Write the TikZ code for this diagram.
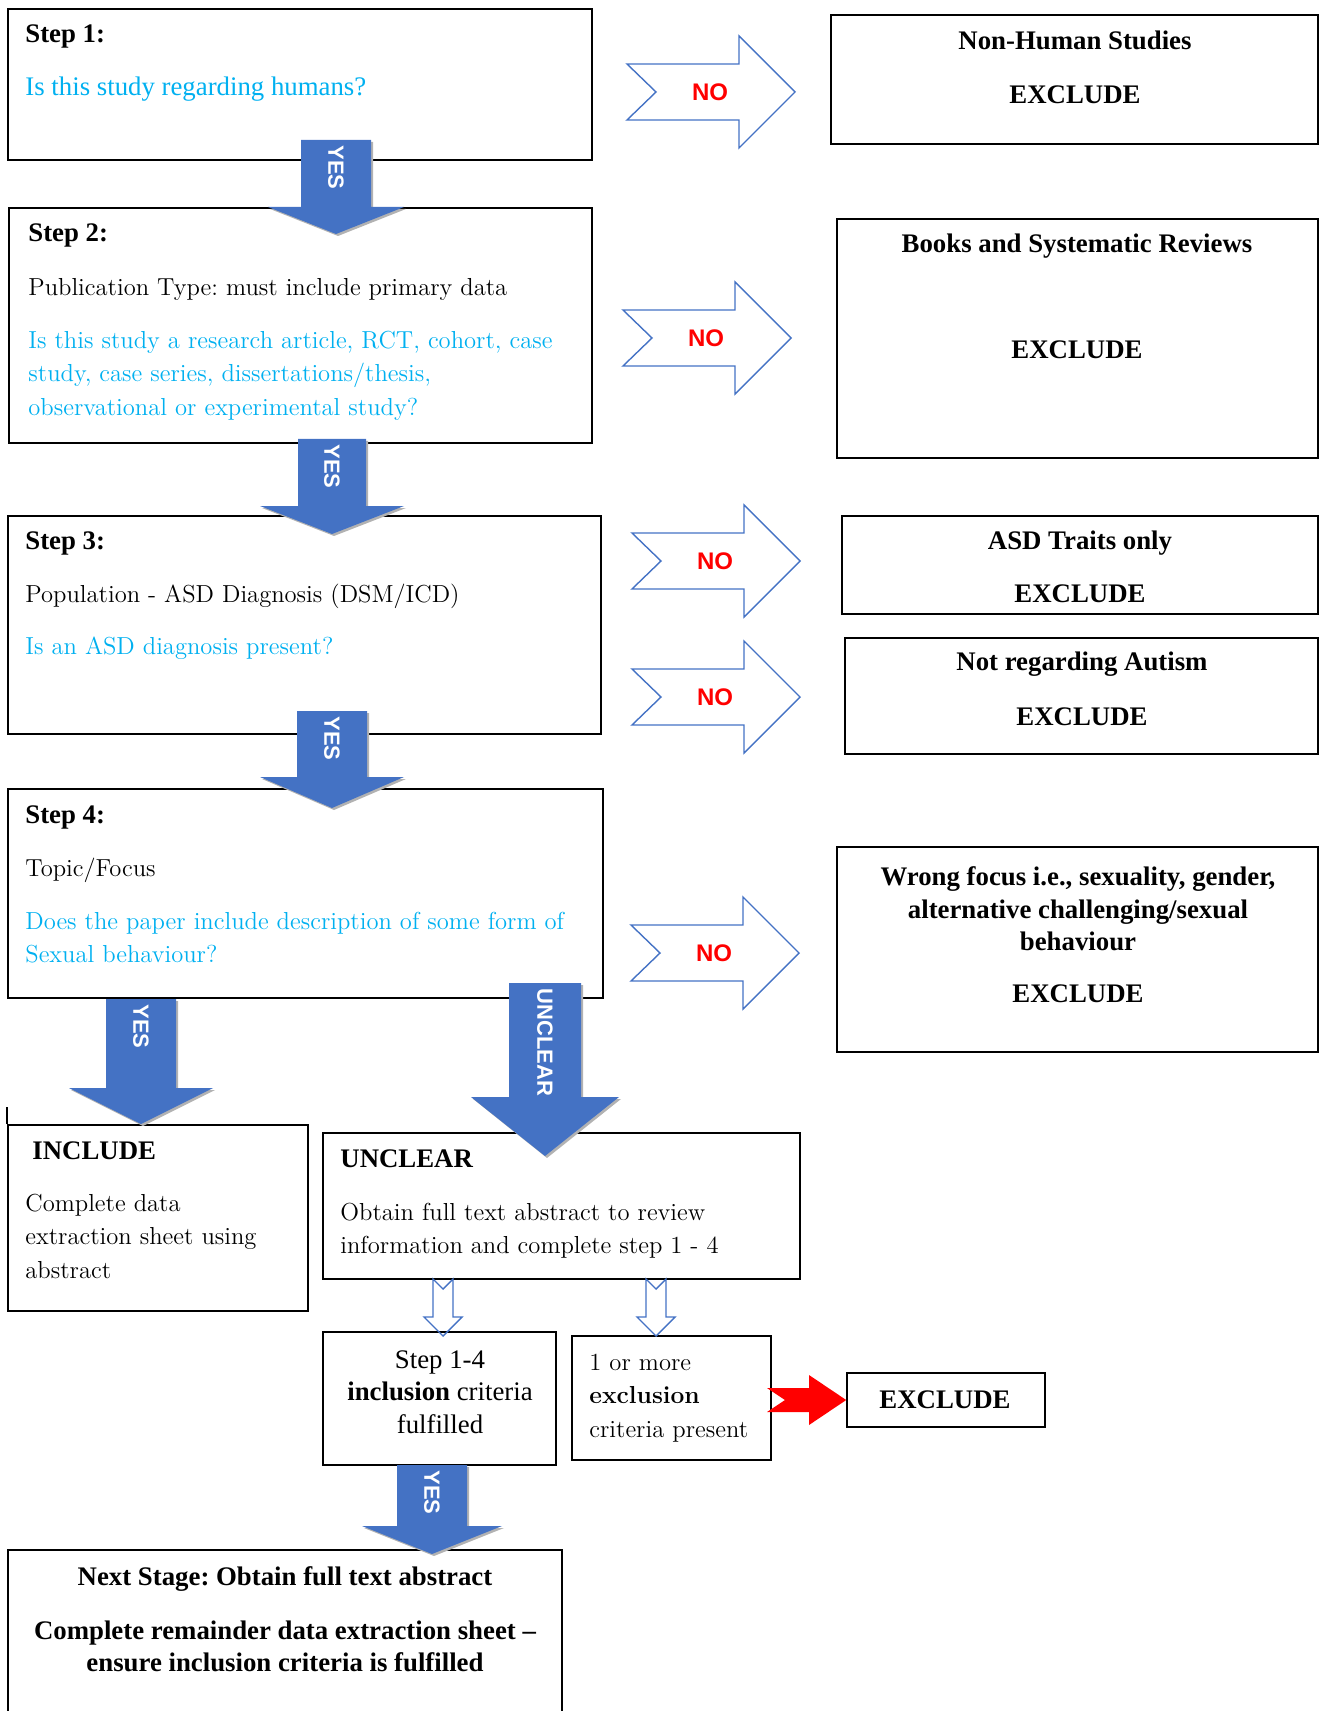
\documentclass[tikz,border=0pt]{standalone}
\usepackage{fontspec}
\newfontfamily\tnr{Liberation Serif}
\newfontfamily\arl{Liberation Sans}
\usetikzlibrary{fit}
\definecolor{yesblue}{HTML}{4472C4}
\definecolor{qcyan}{HTML}{00B0F0}
\tikzset{
  box/.style={draw, line width=0.8pt, inner sep=0pt},
  tms/.style={inner sep=0pt, align=left, anchor=north west, font=\tnr\fontsize{13.4}{16.4}\selectfont},
  tmsb/.style={tms, font=\tnr\bfseries\fontsize{13.4}{16.4}\selectfont},
  cen/.style={inner sep=0pt, align=left, anchor=north west, font=\fontsize{12.3}{16.6}\selectfont},
  hdr/.style={tmsb, align=center, anchor=north},
  noline/.style={draw=yesblue, line width=0.7pt},
  nolbl/.style={text=red, inner sep=0pt, font=\arl\bfseries\fontsize{12}{14}\selectfont},
  yeslbl/.style={rotate=-90, anchor=west, text=white, inner sep=0pt, font=\arl\bfseries\fontsize{11}{13}\selectfont}
}
\frenchspacing
\begin{document}
\begin{tikzpicture}[x=0.5pt,y=-0.5pt]
\useasboundingbox (0,0) rectangle (1320,1711);
% left column
\node[box, fit={(8,9) (592,160)}] (s1) {};
\node[box, fit={(9,208) (592,443)}] (s2) {};
\node[box, fit={(8,516) (601,734)}] (s3) {};
\node[box, fit={(8,789) (603,998)}] (s4) {};
\node[box, fit={(8,1125) (308,1311)}] (inc) {};
\draw[line width=0.8pt] (inc.north west) -- ++(0,-17);
\node[box, fit={(323,1133) (800,1279)}] (unc) {};
\node[box, fit={(323,1332) (556,1465)}] (ok) {};
\node[box, fit={(572,1336) (771,1460)}] (bad) {};
\node[box, fit={(847,1373) (1045,1427)}] (exc) {};
\node[box, fit={(8,1550) (562,1760)}] (next) {};
% right column
\node[box, fit={(831,15) (1318,144)}] (r1) {};
\node[box, fit={(837,219) (1318,458)}] (r2) {};
\node[box, fit={(842,516) (1318,614)}] (r3) {};
\node[box, fit={(845,638) (1318,754)}] (r4) {};
\node[box, fit={(837,847) (1318,1052)}] (r5) {};

% texts
\node[tmsb] (h1) at (25,24) {Step 1:};
\node[tms, text=qcyan] (q1) at (25,77) {Is this study regarding humans?};
\node[tmsb] (h2) at (28,223) {Step 2:};
\node[cen] (p2) at (28,278) {Publication Type: must include primary data};
\node[cen, text=qcyan] (q2) at (28,331) {Is this study a research article, RCT, cohort, case\\study, case series, dissertations/thesis,\\observational or experimental study?};
\node[tmsb] (h3) at (25,531) {Step 3:};
\node[cen] (p3) at (25,584) {Population - ASD Diagnosis (DSM/ICD)};
\node[cen, text=qcyan] (q3) at (25,637) {Is an ASD diagnosis present?};
\node[tmsb] (h4) at (25,805) {Step 4:};
\node[cen] (p4) at (25,858) {Topic/Focus};
\node[cen, text=qcyan] (q4) at (25,912) {Does the paper include description of some form of\\Sexual behaviour?};
\node[tmsb] (hinc) at (32,1141) {INCLUDE};
\node[cen] (pinc) at (25,1194) {Complete data\\extraction sheet using\\abstract};
\node[tmsb] (hunc) at (340,1149) {UNCLEAR};
\node[cen] (punc) at (340,1203) {Obtain full text abstract to review\\information and complete step 1 - 4};
\node[tms, align=center, anchor=north] (pok) at (440,1350) {Step 1-4\\\textbf{inclusion} criteria\\fulfilled};
\node[cen] (pbad) at (589,1354) {1 or more\\\textbf{exclusion}\\criteria present};
\node[hdr, anchor=center] (pexc) at (945,1400) {EXCLUDE};
\node[hdr] (hnext) at (285,1566) {Next Stage: Obtain full text abstract};
\node[hdr] (pnext) at (285,1620) {Complete remainder data extraction sheet –\\ensure inclusion criteria is fulfilled};
\node[hdr] (hr1) at (1075,31) {Non-Human Studies};
\node[hdr] (xr1) at (1075,85) {EXCLUDE};
\node[hdr] (hr2) at (1077,234) {Books and Systematic Reviews};
\node[hdr] (xr2) at (1077,340) {EXCLUDE};
\node[hdr] (hr3) at (1080,531) {ASD Traits only};
\node[hdr] (xr3) at (1080,584) {EXCLUDE};
\node[hdr] (hr4) at (1082,652) {Not regarding Autism};
\node[hdr] (xr4) at (1082,707) {EXCLUDE};
\node[hdr] (hr5) at (1078,866) {Wrong focus i.e., sexuality, gender,\\alternative challenging/sexual\\behaviour};
\node[hdr] (xr5) at (1078,984) {EXCLUDE};

% filled down arrows
\foreach \x/\t/\h/\s/\w/\p/\n/\l in {336/140/207/35/68/234/y1/YES, 332/439/506/34/72/534/y2/YES,
    332/711/777/35/72/808/y3/YES, 141/999/1088/35/72/1124/y4/YES,
    545/983/1097/36/74/1156/y5/UNCLEAR, 432/1465/1526/35/70/1554/y6/YES} {
  \fill[black!30, shift={(2,2)}] (\x-\s,\t) -- (\x+\s,\t) -- (\x+\s,\h) -- (\x+\w,\h)
    -- (\x,\p) -- (\x-\w,\h) -- (\x-\s,\h) -- cycle;
  \fill[yesblue] (\x-\s,\t) -- (\x+\s,\t) -- (\x+\s,\h) -- (\x+\w,\h)
    -- (\x,\p) -- (\x-\w,\h) -- (\x-\s,\h) -- cycle;
  \node[yeslbl] (\n) at (\x,\t+5) {\l};
}

% outline NO arrows
\foreach \x/\y/\n in {627/92/n1, 623/338/n2, 632/561/n3, 632/697/n4, 631/953/n5} {
  \draw[noline] (\x,\y-28) -- (\x+112,\y-28) -- (\x+112,\y-56) -- (\x+168,\y)
    -- (\x+112,\y+56) -- (\x+112,\y+28) -- (\x,\y+28) -- (\x+29,\y) -- cycle;
  \node[nolbl] (\n) at (\x+83,\y) {NO};
}

% small outline arrows under UNCLEAR
\foreach \x in {443,656} {
  \draw[noline] (\x-10,1279) -- (\x,1289) -- (\x+10,1279) -- (\x+10,1317) -- (\x+19,1317)
    -- (\x,1336) -- (\x-19,1317) -- (\x-10,1317) -- cycle;
}

% red arrow to EXCLUDE
\fill[red] (767,1388) -- (809,1388) -- (809,1375) -- (exc.west) -- (809,1425)
  -- (809,1412) -- (767,1412) -- (785,1400) -- cycle;
\end{tikzpicture}
\end{document}
